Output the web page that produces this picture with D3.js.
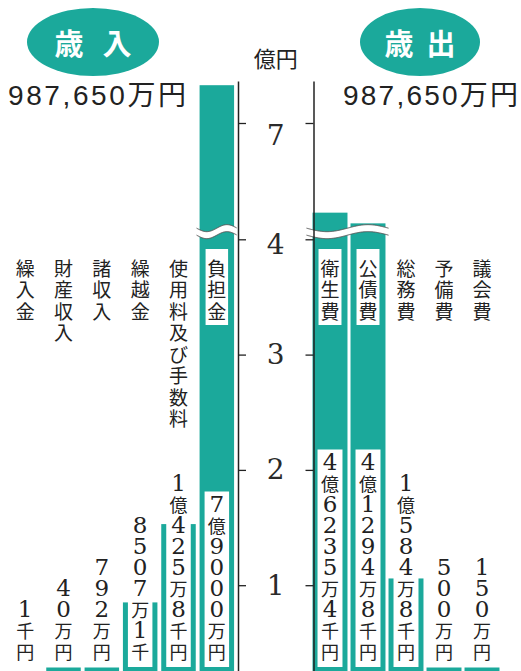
<!DOCTYPE html>
<html><head><meta charset="utf-8">
<script src="https://cdn.jsdelivr.net/npm/d3@7"></script>
<style>html,body{margin:0;padding:0;background:#fff;} svg{display:block}</style>
</head><body>
<svg id="chart" width="521" height="671"></svg>
<script>
// ---- data ----
const revenueCategories = ['負担金','使用料及び手数料','繰越金','諸収入','財産収入','繰入金'];
const revenueValues = [7.9, 1.53, 0.8507, 0.0792, 0.004, 0.00001];
const revenueLabels = ['7億9000万円','1億425万8千円','8507万1千','792万円','40万円','1千円'];
const expenditureCategories = ['衛生費','公債費','総務費','予備費','議会費'];
const expenditureValues = [4.6235, 4.1295, 1.0585, 0.05, 0.015];
const expenditureLabels = ['4億6235万4千円','4億1294万8千円','1億584万8千円','500万円','150万円'];
const axisTicks = [1, 2, 3, 4, 7];
const unitLabel = '億円';
const titles = ['歳入', '歳出'];
const totals = ['987,650万円', '987,650万円'];

// ---- style / layout ----
const TEAL = '#1ba99b';
const INK = '#222';
const W = 521, H = 671;
const CJK = '"Noto Sans CJK JP", sans-serif';
const SERIF = '"DejaVu Serif", "Liberation Serif", serif';
const svg = d3.select('#chart');

// broken value axis (compressed above the break)
const y = d3.scaleLinear().domain([0, 4, 4.1, 4.7, 7, 8]).range([700.5, 239.3, 224, 211, 123, 81]);
const leftAxisX = 238, rightAxisX = 313.5;
const xRev = d3.scaleBand().domain(revenueCategories).range([236, 6]).paddingInner(0.1).paddingOuter(0.05);
const xExp = d3.scaleBand().domain(expenditureCategories).range([311, 501]).paddingInner(0.08).paddingOuter(0.04);

const minBarPx = 33, innerBottom = 667, labelPitch = 21, lastCharCenter = 651;
const nameTop = 249, namePitch = 21.5, nameFirst = 267;
const breakVal = 4.05;

const gBars = svg.append('g');
const gBoxes = svg.append('g');
const gWave = svg.append('g');
const gAxes = svg.append('g');
const gText = svg.append('g');

function isDigit(c){ return /[0-9]/.test(c); }

function drawSide(cats, vals, labels, x, axisX, side) {
  const bw = x.bandwidth();
  const big = [];
  cats.forEach((cat, i) => {
    const bx = x(cat), cx = bx + bw / 2, v = vals[i];
    let top = null;
    if (v >= 0.001) {
      top = Math.min(y(v), y(0) - minBarPx);
      gBars.append('rect').attr('x', bx).attr('y', top).attr('width', bw)
        .attr('height', H + 40 - top).attr('fill', TEAL);
      if (v > breakVal) big.push([bx, bx + bw]);
    }
    // value label (stacked vertically, bottom aligned)
    const chars = Array.from(labels[i]);
    const n = chars.length;
    const first = lastCharCenter - (n - 1) * labelPitch;
    const inset = 5;
    const boxTop = first - labelPitch / 2 - 2;
    gBoxes.append('rect').attr('x', bx + inset).attr('width', bw - 2 * inset)
      .attr('y', boxTop).attr('height', innerBottom - boxTop).attr('fill', '#fff');
    chars.forEach((c, k) => {
      gText.append('text').attr('x', cx).attr('y', first + k * labelPitch)
        .attr('text-anchor', 'middle').attr('dominant-baseline', 'central')
        .attr('font-family', isDigit(c) ? SERIF : CJK)
        .attr('font-size', isDigit(c) ? 23 : 18)
        .attr('fill', INK).text(c);
    });
    // category name (stacked vertically, top aligned)
    const nm = Array.from(cat);
    if (top !== null && top < nameTop) {
      gBoxes.append('rect').attr('x', bx + 6).attr('width', bw - 12)
        .attr('y', nameTop).attr('height', nameFirst + (nm.length - 1) * namePitch + 15 - nameTop)
        .attr('fill', '#fff');
    }
    nm.forEach((c, k) => {
      gText.append('text').attr('x', cx).attr('y', nameFirst + k * namePitch)
        .attr('text-anchor', 'middle').attr('dominant-baseline', 'central')
        .attr('font-family', CJK).attr('font-size', 19).attr('fill', INK).text(c);
    });
  });
  // wavy break mark
  if (big.length) {
    let xa = d3.min(big, d => d[0]) - 3, xb = d3.max(big, d => d[1]) + 3;
    if (side === 'left') xb = Math.max(xb, axisX - 1); else xa = Math.min(xa, axisX - 7);
    const yb = y(breakVal), A = 3.5, half = 3.5;
    const xs = d3.range(xa, xb + 0.5, 1);
    const f = xv => yb + A * Math.sin(2 * Math.PI * (xv - xa) / (xb - xa));
    const topPts = xs.map(xv => [xv, f(xv) - half]);
    const botPts = xs.map(xv => [xv, f(xv) + half]);
    const line = d3.line();
    gWave.append('path').attr('d', line(topPts.concat(botPts.slice().reverse())) + 'Z')
      .attr('fill', '#fff');
    gWave.append('path').attr('d', line(topPts)).attr('fill', 'none').attr('stroke', '#555').attr('stroke-width', 1);
    gWave.append('path').attr('d', line(botPts)).attr('fill', 'none').attr('stroke', '#555').attr('stroke-width', 1);
  }
}

drawSide(revenueCategories, revenueValues, revenueLabels, xRev, leftAxisX, 'left');
drawSide(expenditureCategories, expenditureValues, expenditureLabels, xExp, rightAxisX, 'right');

// axes
const axL = d3.axisRight(y).tickValues(axisTicks).tickSize(8).tickSizeOuter(0).tickFormat('');
const axR = d3.axisLeft(y).tickValues(axisTicks).tickSize(8).tickSizeOuter(0).tickFormat('');
[[axL, leftAxisX], [axR, rightAxisX]].forEach(([ax, px]) => {
  const g = gAxes.append('g').attr('transform', `translate(${px},0)`).call(ax);
  g.select('.domain').attr('stroke', INK).attr('stroke-width', 1.5);
  g.selectAll('.tick line').attr('stroke', INK).attr('stroke-width', 1.3);
});
const tickLabelShift = t => (t >= 7 ? 12 : t >= 4 ? 5 : 0);
gText.selectAll('.ticklab').data(axisTicks).join('text')
  .attr('x', (leftAxisX + rightAxisX) / 2).attr('y', d => y(d) + tickLabelShift(d))
  .attr('text-anchor', 'middle').attr('dominant-baseline', 'central')
  .attr('font-family', SERIF).attr('font-size', 28).attr('fill', '#2a2a2a').text(d => d);
gText.append('text').attr('x', (leftAxisX + rightAxisX) / 2).attr('y', 67)
  .attr('text-anchor', 'middle').attr('font-family', CJK).attr('font-size', 22)
  .attr('fill', INK).text(unitLabel);

// headers
const heads = [{cx: 93, rx: 66, off: 24, tx: 8, tl: 178}, {cx: 420, rx: 60, off: 21, tx: 343, tl: 175}];
heads.forEach((h, i) => {
  svg.append('ellipse').attr('cx', h.cx).attr('cy', 42).attr('rx', h.rx).attr('ry', 34).attr('fill', TEAL);
  Array.from(titles[i]).forEach((c, k) => {
    svg.append('text').attr('x', h.cx + (k === 0 ? -h.off : h.off)).attr('y', 42)
      .attr('text-anchor', 'middle').attr('dominant-baseline', 'central')
      .attr('font-family', CJK).attr('font-weight', 'bold').attr('font-size', 29)
      .attr('fill', '#fff').text(c);
  });
  svg.append('text').attr('x', h.tx).attr('y', 105)
    .attr('font-family', '"Liberation Sans", "Noto Sans CJK JP", sans-serif').attr('font-size', 28)
    .attr('textLength', h.tl).attr('lengthAdjust', 'spacing')
    .attr('fill', INK).text(totals[i]);
});
</script>
</body></html>
